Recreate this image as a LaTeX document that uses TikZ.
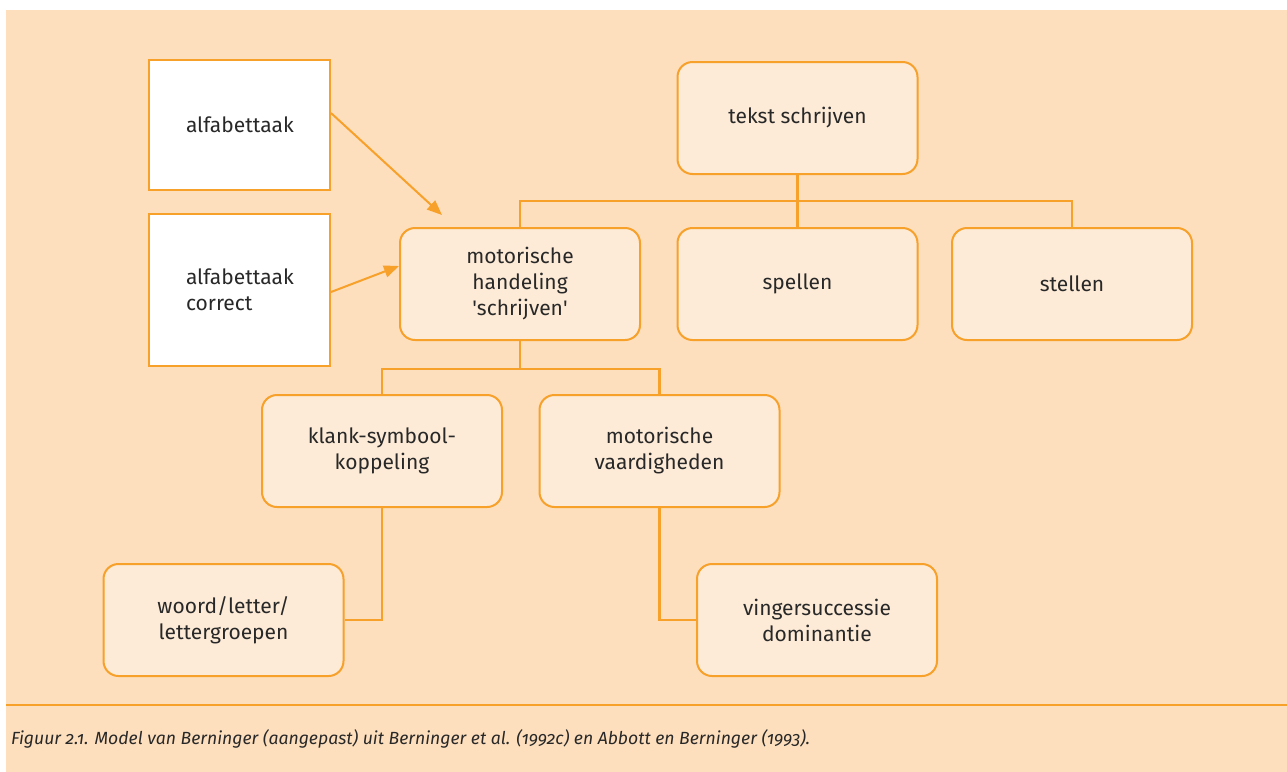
\documentclass[tikz,border=0pt]{standalone}
\usepackage{fontspec}
\setmainfont{Fira Sans}
\newfontfamily\capfont[Numbers=OldStyle]{Fira Sans}
\usetikzlibrary{arrows.meta}
\definecolor{bgorange}{RGB}{253,223,189}
\definecolor{boxfill}{RGB}{253,235,215}
\definecolor{lineorange}{RGB}{247,160,42}
\definecolor{inkgrey}{RGB}{40,40,40}

\begin{document}
\begin{tikzpicture}[x=0.5pt, y=-0.5pt,
  every node/.style={text=inkgrey, font=\fontsize{10.5}{13}\selectfont},
  block/.style={draw=lineorange, line width=1pt, fill=boxfill, rounded corners=7.5pt,
    minimum width=120pt, minimum height=56pt, align=center, inner sep=0pt},
  task/.style={draw=lineorange, line width=1pt, fill=white, minimum width=90.5pt,
    text width=53.5pt, inner xsep=18.5pt, inner ysep=0pt, align=left},
  link/.style={draw=lineorange, line width=1.1pt},
  feed/.style={draw=lineorange, line width=1pt, -{Triangle[length=7.5pt,width=6pt]}}]
\useasboundingbox (0,0) rectangle (1287,772);
\fill [bgorange] (6,10) rectangle (1287,772);

% boxes on the left
\node [task, minimum height=65pt] (alfa) at (239.5,125) {alfabettaak};
\node [task, minimum height=76pt] (alfacor) at (239.5,290) {alfabettaak\\correct};

% top of the tree
\node [block] (tekst) at (797.5,118) {tekst schrijven};
\node [block] (motor) at (520,284) {motorische\\handeling\\\textquotesingle schrijven\textquotesingle};
\node [block] (spellen) at (797.5,284) {spellen};
\node [block] (stellen) at (1072,284) {stellen};

% under motorische handeling
\node [block] (klank) at (382,451) {klank-symbool-\\koppeling};
\node [block] (vaard) at (659.5,451) {motorische\\vaardigheden};
\node [block] (woord) at (223.5,620) {woord/letter/\\lettergroepen};
\node [block] (vinger) at (817,620) {vingersuccessie\\dominantie};

\coordinate (bus1) at (797.5,201);
\coordinate (bus2) at (520,369);
\coordinate (alfaend) at (442,215);

\draw [link] (tekst.south) -- (spellen.north);
\draw [link] (motor.north) |- (bus1) -| (stellen.north);
\draw [link] (motor.south) -- (bus2);
\draw [link] (klank.north) |- (bus2) -| (vaard.north);
\draw [link] (klank.south) |- (woord.east);
\draw [link] (vaard.south) |- (vinger.west);

\draw [feed] ([yshift=6pt]alfa.east) -- (alfaend);
\draw [feed] ([yshift=-1pt]alfacor.east) -- ([yshift=9pt]motor.west);

% caption
\draw [lineorange, line width=1.2pt] (6,705) -- (1287,705);
\node [anchor=base west, font=\capfont\itshape\fontsize{8.8}{11}\selectfont] (caption) at (4,744)
  {Figuur 2.1. Model van Berninger (aangepast) uit Berninger et al. (1992c) en Abbott en Berninger (1993).};
\end{tikzpicture}
\end{document}
